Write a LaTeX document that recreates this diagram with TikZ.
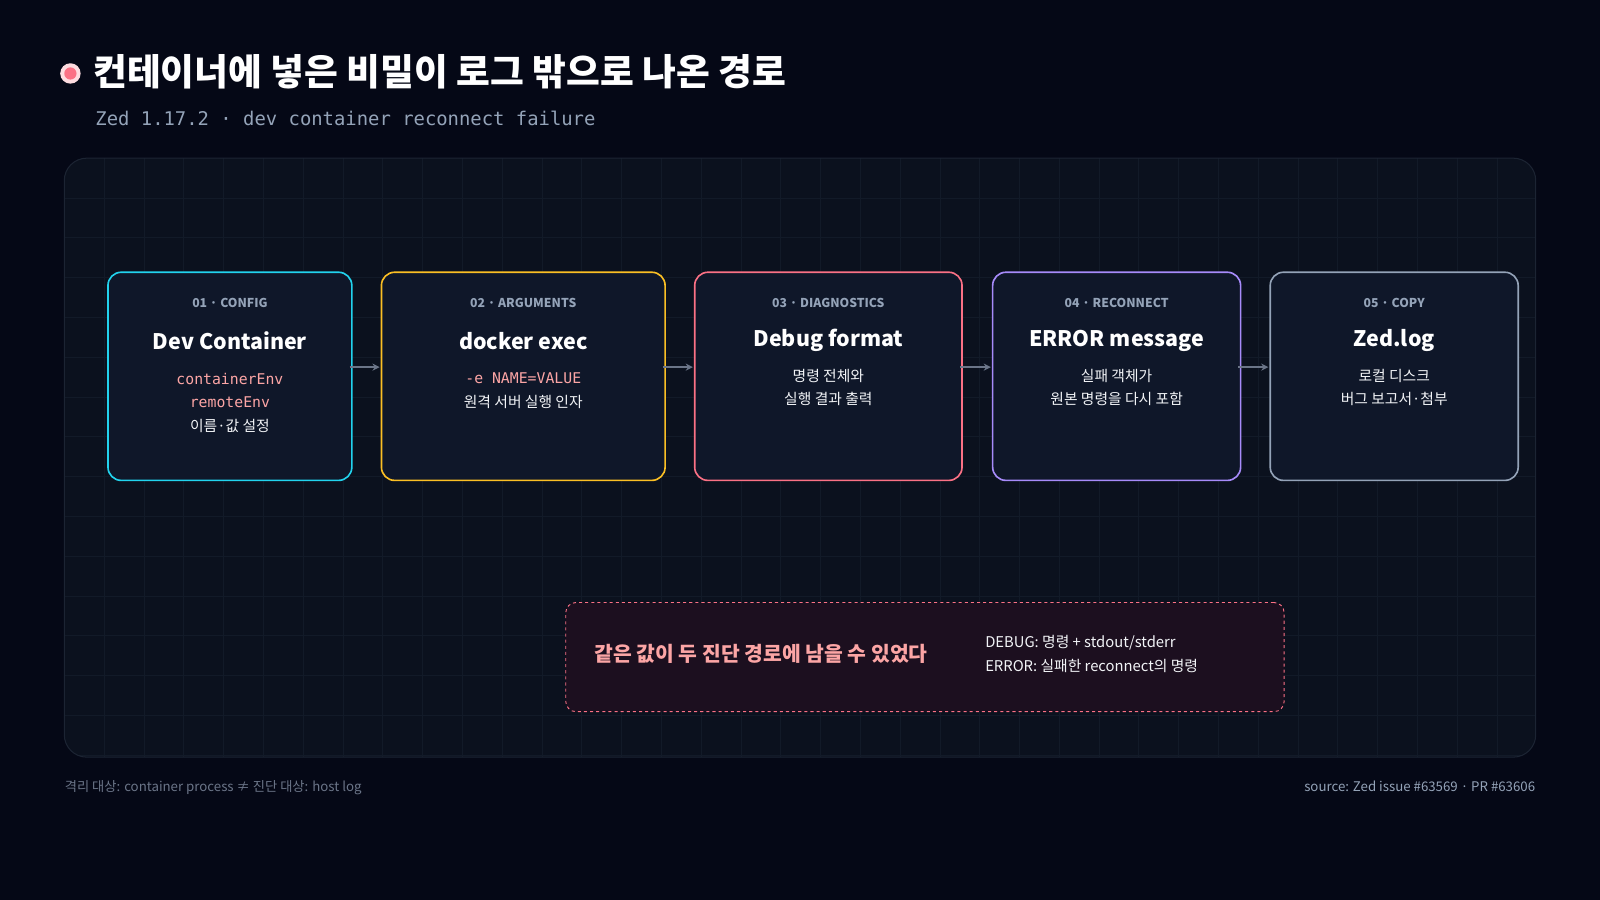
\documentclass[tikz,border=0pt]{standalone}
\usepackage{fontspec}
\setmainfont{Noto Sans CJK KR}
\setmonofont{DejaVu Sans Mono}
\usetikzlibrary{positioning,arrows.meta}
\definecolor{bgc}{HTML}{050816}
\definecolor{panelc}{HTML}{0B111E}
\definecolor{paneledge}{HTML}{1C2433}
\definecolor{gridc}{HTML}{121A28}
\definecolor{boxc}{HTML}{0F1729}
\definecolor{cyanc}{HTML}{22D3EE}
\definecolor{yelc}{HTML}{FBBF24}
\definecolor{pinkc}{HTML}{FB7185}
\definecolor{purc}{HTML}{A78BFA}
\definecolor{grayc}{HTML}{94A3B8}
\definecolor{codec}{HTML}{FCA5A5}
\definecolor{mutec}{HTML}{6B7588}
\definecolor{notec}{HTML}{1C0F1F}
\tikzset{
  step box/.style={draw=#1, line width=1.6pt, fill=boxc, rounded corners=13pt,
    minimum height=204pt, anchor=north west},
  tag/.style={font=\fontsize{12}{14}\selectfont\bfseries, text=grayc},
  head/.style={font=\fontsize{21}{24}\selectfont\bfseries, text=white},
  body/.style={font=\fontsize{14.5}{23}\selectfont, text=white!88!grayc, align=center},
  code/.style={font=\ttfamily\fontsize{14.5}{23}\selectfont, text=codec},
  flow/.style={-{Stealth[length=7pt,width=7pt]}, line width=1.6pt, draw=mutec},
}
\begin{document}
\begin{tikzpicture}[x=1pt,y=-1pt]
  % canvas
  \fill[bgc] (0,0) rectangle (1568,882);
  \useasboundingbox (0,0) rectangle (1568,882);

  % title
  \fill[pinkc!25] (69,72) circle (10);
  \fill[pinkc] (69,72) circle (6);
  \node[anchor=base west, font=\fontsize{36}{40}\selectfont\bfseries, text=white]
    (title) at (88,84) {컨테이너에 넣은 비밀이 로그 밖으로 나온 경로};
  \node[anchor=base west, font=\ttfamily\fontsize{18.5}{20}\selectfont, text=grayc]
    (sub) at (90,123) {Zed 1.17.2 · dev container reconnect failure};

  % panel with grid
  \fill[panelc] (63,155) [rounded corners=22pt] rectangle (1505,742);
  \begin{scope}
    \clip[rounded corners=22pt] (63,155) rectangle (1505,742);
    \foreach \x in {102,141,...,1505} \draw[gridc, line width=0.6pt] (\x,155) -- (\x,742);
    \foreach \y in {194,233,...,742} \draw[gridc, line width=0.6pt] (63,\y) -- (1505,\y);
  \end{scope}
  \draw[paneledge, line width=1pt, rounded corners=22pt] (63,155) rectangle (1505,742);

  % steps
  \node[step box=cyanc, minimum width=239pt] (config) at (105,266) {};
  \node[step box=yelc, minimum width=278pt] (args) at (373,266) {};
  \node[step box=pinkc, minimum width=262pt] (diag) at (680,266) {};
  \node[step box=purc, minimum width=243pt] (recon) at (972,266) {};
  \node[step box=grayc, minimum width=243pt] (copy) at (1244,266) {};

  \foreach \b/\t/\h in {config/01 · CONFIG/Dev Container, args/02 · ARGUMENTS/docker exec,
      diag/03 · DIAGNOSTICS/Debug format, recon/04 · RECONNECT/ERROR message, copy/05 · COPY/Zed.log} {
    \node[tag] (\b-tag) at ([yshift=-31pt]\b.north) {\t};
    \node[head] (\b-head) at ([yshift=-68pt]\b.north) {\h};
  }

  \node[code] (config-a) at ([yshift=-105pt]config.north) {containerEnv};
  \node[code] (config-b) at ([yshift=-128pt]config.north) {remoteEnv};
  \node[body] (config-c) at ([yshift=-151pt]config.north) {이름·값 설정};
  \node[code] (args-a) at ([yshift=-105pt]args.north) {-e NAME=VALUE};
  \node[body] (args-b) at ([yshift=-128pt]args.north) {원격 서버 실행 인자};
  \node[body, anchor=north] (diag-a) at ([yshift=-92pt]diag.north) {명령 전체와\\실행 결과 출력};
  \node[body, anchor=north] (recon-a) at ([yshift=-92pt]recon.north) {실패 객체가\\원본 명령을 다시 포함};
  \node[body, anchor=north] (copy-a) at ([yshift=-92pt]copy.north) {로컬 디스크\\버그 보고서·첨부};

  % connectors
  \foreach \a/\b in {config/args, args/diag, diag/recon, recon/copy}
    \draw[flow] ([xshift=-3pt,yshift=9pt]\a.east) -- ([xshift=-1pt,yshift=9pt]\b.west);

  % note
  \node[draw=pinkc, dashed, line width=0.9pt, fill=notec, rounded corners=10pt,
    minimum width=704pt, minimum height=107pt, anchor=north west] (note) at (554,590) {};
  \node[anchor=west, font=\fontsize{20}{24}\selectfont\bfseries, text=codec]
    (note-a) at (579,641) {같은 값이 두 진단 경로에 남을 수 있었다};
  \node[anchor=west, font=\fontsize{14.5}{23}\selectfont, text=white!88!grayc, align=left]
    (note-b) at (962,641) {DEBUG: 명령 + stdout/stderr\\ERROR: 실패한 reconnect의 명령};

  % footer
  \node[anchor=base west, font=\fontsize{13}{15}\selectfont, text=mutec]
    (foot-l) at (60,776) {격리 대상: container process ≠ 진단 대상: host log};
  \node[anchor=base east, font=\fontsize{13}{15}\selectfont, text=grayc]
    (foot-r) at (1508,776) {source: Zed issue \#63569 · PR \#63606};
\end{tikzpicture}
\end{document}
